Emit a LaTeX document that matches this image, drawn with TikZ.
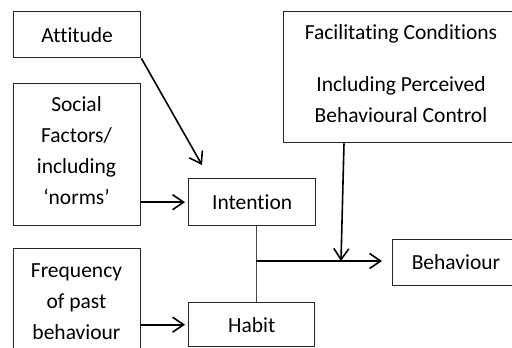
\documentclass[tikz,border=0pt]{standalone}
\usepackage{fontspec}
\setmainfont{Carlito}[Ligatures=NoCommon]
\usetikzlibrary{arrows.meta}
\begin{document}
\begin{tikzpicture}[x=1pt,y=-1pt,
  box/.style={draw=black!85, line width=1.4pt, inner sep=0pt, anchor=north west,
    font=\fontsize{21.5}{31}\selectfont, align=center},
  txt/.style={font=\fontsize{21.5}{31}\selectfont, align=center, inner sep=0pt},
  arr/.style={line width=1.6pt, -{Straight Barb[length=11pt,width=15pt,line width=1.6pt]}},
  thin/.style={draw=black!70, line width=0.9pt}]
\useasboundingbox (0,0) rectangle (512,348);
\begin{scope}
\clip (0,0) rectangle (512,348);
% boxes
\node[box, minimum width=127pt, minimum height=46pt] (att) at (13,11) {Attitude};
\node[box, minimum width=127pt, minimum height=142pt] (soc) at (13,83) {};
\node[txt] (soct) at (76.5,151) {Social\\Factors/\\including\\‘norms’};
\node[box, minimum width=127pt, minimum height=110pt] (freq) at (13,248) {};
\node[txt] (freqt) at (76.5,302) {Frequency\\of past\\behaviour};
\node[box, minimum width=127pt, minimum height=47pt] (int) at (188,178) {Intention};
\node[box, minimum width=126pt, minimum height=44pt] (hab) at (188,302) {Habit};
\node[box, minimum width=240pt, minimum height=131pt] (fac) at (283,11) {};
\node[txt] (fact1) at (401,34) {Facilitating Conditions};
\node[txt] (fact2) at (401,100) {Including Perceived\\Behavioural Control};
\node[box, minimum width=130pt, minimum height=46pt] (beh) at (392,239) {};
\node[txt] (beht) at (456,262) {Behaviour};
% connectors
\coordinate (attend) at (202,165);
\coordinate (j) at (256,261);
\coordinate (facj) at (341,261);
\draw[arr] (att.south east) -- (attend);
\draw[arr, shorten >=3pt] (soc.east |- int.west) -- (int.west);
\draw[arr, shorten >=3pt] (freq.east |- hab.west) -- (hab.west);
\draw[thin] (int.south -| j) -- (hab.north -| j);
\draw[arr, shorten >=10pt] (j) -- (beh.west |- j);
\draw[arr] (fac.south -| 344,0) -- (facj);
\end{scope}
\end{tikzpicture}
\end{document}
